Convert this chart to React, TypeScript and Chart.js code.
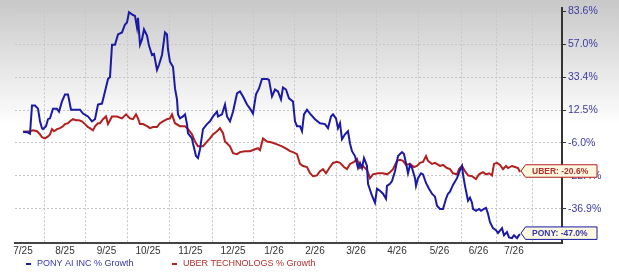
import React, { useEffect, useRef } from 'react';
import { Chart, registerables } from 'chart.js';

Chart.register(...registerables);

// [trading-day index since start, % growth]
const ponyGrowth: [number, number][] = [
  [0, 0], [2, -0.2], [3.5, -1.0], [4.5, 15.2], [6, 15.2], [7.5, 13.3], [8.5, 5.9], [9.5, 2.0], [10, 1.5], [11.5, 3.1],
  [12.5, 7.1], [13.5, 7.6], [15, 13.3], [17, 13.3], [18, 11.5], [19.5, 17.7], [21, 22.1], [22.5, 22.1], [24, 12.7], [26, 12.7],
  [28.5, 12.7], [30, 10.4], [32.5, 8.7], [34.5, 5.9], [36, 7.1], [37.5, 15.8], [39.5, 16.4], [41, 24.0], [42.5, 32.1], [43.5, 33.4],
  [44.5, 56.6], [46, 56.6], [47.5, 64.5], [49.5, 66.1], [51, 72.5], [52, 74.1], [53, 82.8], [55, 80.4], [56, 79.6], [57, 70.1],
  [57.5, 78.0], [58.5, 56.6], [59.5, 60.6], [60.5, 68.5], [62, 63.7], [63, 55.9], [64.5, 48.9], [65.5, 49.6], [67, 38.3], [68, 41.9],
  [69.5, 48.9], [70, 54.5], [71, 66.1], [72, 64.5], [72.5, 53.1], [73.5, 44.0], [75, 40.5], [76, 25.9], [77, 18.9], [77.5, 9.9],
  [78.5, 7.6], [80, 8.7], [81, 9.9], [82, 4.3], [82.5, -0.8], [84.5, -3.6], [85, -6.3], [86.5, -12.8], [87.5, -13.8], [88.5, -9.3],
  [90, 1.5], [92, 4.3], [93.5, 5.9], [95, 8.7], [97, 11.5], [97.5, 8.7], [99.5, 9.9], [101, 15.8], [102, 8.7], [103.5, 5.9],
  [105, 11.5], [107, 22.7], [108.5, 24.0], [110, 20.8], [112, 15.8], [113.5, 13.3], [115, 10.4], [116.5, 22.1], [118, 25.9], [119.5, 32.1],
  [122, 32.1], [123, 31.5], [124.5, 20.8], [126, 25.2], [127.5, 24.0], [129, 18.9], [130, 26.5], [131.5, 25.2], [133, 19.6], [135, 17.7],
  [136, 5.9], [137, 3.1], [138.5, 3.1], [139.5, 0.3], [140.5, 9.9], [142, 12.7], [143.5, 10.4], [146, 7.1], [148.5, 4.8], [151, 4.3],
  [152.5, 2.0], [154, 8.7], [155, 9.9], [156.5, 7.6], [157.5, 2.0], [158.5, 4.8], [159.5, -4.1], [161, -1.4], [162.5, 0.3], [163.5, -6.3],
  [164.5, -10.3], [166, -12.8], [167.5, -18.7], [168.5, -16.2], [169.5, -18.7], [170.5, -13.8], [172, -17.7], [172.5, -26.1], [174.5, -31.4], [176, -34.4],
  [177, -28.3], [178.5, -29.2], [180, -30.5], [181.5, -32.7], [182, -27.0], [183.5, -26.1], [184.5, -24.8], [186, -20.2], [187.5, -12.8], [189.5, -10.8],
  [190.5, -11.8], [192, -18.7], [192.5, -21.2], [193.5, -17.2], [194.5, -18.7], [196, -23.5], [196.5, -27.0], [197.5, -23.5], [199, -21.2], [200, -21.7],
  [201.5, -25.7], [203, -28.3], [204.5, -30.5], [206, -31.8], [207, -35.7], [208.5, -37.0], [210, -37.0], [211.5, -32.7], [212.5, -30.5], [213.5, -29.6],
  [215, -26.6], [217, -23.5], [218.5, -19.7], [219.5, -17.7], [220, -21.7], [221, -27.0], [222, -31.4], [222.5, -33.5], [223.5, -32.2], [224.5, -34.4],
  [225, -37.0], [226.5, -37.8], [228, -37.0], [229, -37.8], [230.5, -37.0], [231.5, -36.6], [232.5, -39.0], [233.5, -42.4], [235, -44.7], [236.5, -45.5],
  [237.5, -46.6], [239.5, -44.7], [240.5, -47.4], [242, -46.2], [243, -48.2], [244.5, -48.5], [245.5, -47.4], [247, -48.5], [248, -47.4], [248.5, -47.0],
];

const uberGrowth: [number, number][] = [
  [0, 0], [2, 0.2], [3.5, 0.3], [5, 0.8], [7, 0.3], [8.5, -1.4], [9.5, -3.0], [11, -3.6], [12.5, -2.5], [13.5, -1.4],
  [14.5, 1.5], [15.5, 0.3], [17, 1.5], [18.5, 2.0], [20, 3.1], [21, 4.3], [22.5, 4.8], [23.5, 5.9], [25, 7.1], [26.5, 6.5],
  [28, 6.5], [29.5, 5.9], [31, 4.3], [32.5, 2.6], [33.5, 2.0], [35, 0.8], [36, 3.1], [37.5, 4.8], [38.5, 4.8], [40, 7.1],
  [41.5, 8.7], [42.5, 4.3], [44.5, 8.7], [47, 8.7], [49.5, 7.6], [51.5, 9.9], [53.5, 7.6], [55, 7.1], [56.5, 9.9], [57.5, 7.6],
  [58.5, 4.3], [60, 4.3], [62, 3.1], [63.5, 2.0], [65, 2.6], [67, 2.6], [68.5, 4.8], [70, 5.9], [72, 7.1], [73.5, 7.6],
  [74.5, 9.9], [76, 4.8], [78.5, 3.1], [81, 3.1], [82.5, 1.5], [84.5, -1.4], [86, -5.3], [87.5, -7.8], [90, -7.8], [92, -5.3],
  [93.5, -3.6], [95, -1.4], [97, 0.3], [98.5, 2.0], [100, -0.8], [101, -5.3], [103.5, -7.8], [105, -11.3], [107, -11.8], [108.5, -10.8],
  [111, -10.3], [113.5, -10.3], [116, -9.3], [117.5, -8.8], [118.5, -9.8], [120, -3.6], [122, -5.3], [124.5, -5.8], [127, -6.8], [129.5, -7.8],
  [132, -9.3], [133.5, -10.3], [135, -10.8], [137, -11.8], [138.5, -16.7], [140, -17.7], [142, -18.2], [143.5, -21.2], [145, -22.6], [147, -22.2],
  [148.5, -20.2], [150, -19.2], [151.5, -21.2], [153.5, -18.2], [155, -16.2], [157, -15.7], [158.5, -16.2], [160.5, -18.2], [162, -19.2], [163.5, -16.7],
  [165.5, -15.7], [167, -14.2], [168.5, -18.7], [170, -17.7], [172, -19.7], [173.5, -23.5], [175, -21.7], [177.5, -21.2], [180, -21.2], [182, -21.7],
  [183.5, -20.7], [185, -19.2], [187, -15.2], [188.5, -14.7], [190, -15.2], [191.5, -17.2], [193.5, -16.7], [195.5, -18.2], [197, -17.7], [198.5, -16.2],
  [200, -15.7], [201.5, -12.8], [202.5, -15.2], [204.5, -16.7], [206, -16.2], [208.5, -17.7], [210, -17.2], [212, -18.7], [213.5, -19.2], [215, -21.2],
  [217, -21.7], [218, -19.2], [219.5, -17.7], [221, -20.2], [222.5, -22.2], [224.5, -22.6], [226.5, -23.9], [228, -21.7], [230, -20.7], [231.5, -21.7],
  [233, -21.2], [234.5, -22.2], [235.5, -16.7], [237, -16.2], [238.5, -17.2], [240, -19.2], [241.5, -17.7], [242.5, -18.7], [244.5, -17.7], [246, -18.2],
  [247.5, -18.7], [248.5, -20.6],
];

const yTickValues = [83.6, 57.0, 33.4, 12.5, -6.0, -22.4, -36.9];
const monthStarts = [10.5, 31.5, 52, 73, 94.5, 115.5, 135.5, 156.5, 176.5, 197.5, 219, 236.5, 254.5];
const monthLabels = ['7/25', '8/25', '9/25', '10/25', '11/25', '12/25', '1/26', '2/26', '3/26', '4/26', '5/26', '6/26', '7/26'];

const seriesTags = ['PONY', 'UBER'];
const seriesNames = ['PONY AI INC % Growth', 'UBER TECHNOLOGS % Growth'];
const lineColors = ['#1a1aa4', '#b21f1f'];
const textColors = ['#3535ac', '#b03030'];

// compressed growth axis used by the source chart
const SHIFT = 149.7;
const REF = 233.3;
const STEP = 0.121;
const toAxis = (v: number) => Math.log((v + SHIFT) / REF) / STEP;

const FONT = '"Liberation Sans", Arial, sans-serif';

type XTick = { value: number; kind: 'grid' | 'label'; text: string };
const xTicks: XTick[] = [
  ...monthStarts.map((v) => ({ value: v, kind: 'grid' as const, text: '' })),
  ...monthLabels.map((lab, i) => {
    const prev = i === 0 ? 2 * monthStarts[0] - monthStarts[1] : monthStarts[i - 1];
    return { value: (prev + monthStarts[i]) / 2, kind: 'label' as const, text: lab };
  }),
].sort((a, b) => a.value - b.value);

const backdrop = {
  id: 'backdrop',
  beforeDraw(chart: any) {
    const { ctx, width, height } = chart;
    const g = ctx.createLinearGradient(0, 0, 0, 125);
    g.addColorStop(0, '#c8c8c8');
    g.addColorStop(1, '#ffffff');
    ctx.save();
    ctx.fillStyle = g;
    ctx.fillRect(0, 0, width, height);
    ctx.restore();
  },
};

const overlay = {
  id: 'overlay',
  afterDraw(chart: any) {
    const { ctx } = chart;
    ctx.save();
    // legend
    const legendX = [26, 172];
    const ly = 264;
    seriesNames.forEach((name, i) => {
      ctx.fillStyle = lineColors[i];
      ctx.fillRect(legendX[i], ly - 1, 5, 2);
      ctx.fillStyle = textColors[i];
      ctx.font = `9px ${FONT}`;
      ctx.textBaseline = 'middle';
      ctx.textAlign = 'left';
      ctx.fillText(name, legendX[i] + 11, ly);
    });
    // end tags
    chart.data.datasets.forEach((ds: any, i: number) => {
      const meta = chart.getDatasetMeta(i);
      const pt = meta.data[meta.data.length - 1];
      const last = ds.rawValues[ds.rawValues.length - 1];
      const x0 = pt.x + 1;
      const yc = pt.y - 1;
      const w = 76;
      const h = 12.5;
      const notch = 4.5;
      ctx.beginPath();
      ctx.moveTo(x0, yc);
      ctx.lineTo(x0 + notch, yc - h / 2);
      ctx.lineTo(x0 + w, yc - h / 2);
      ctx.lineTo(x0 + w, yc + h / 2);
      ctx.lineTo(x0 + notch, yc + h / 2);
      ctx.closePath();
      ctx.fillStyle = '#fcf8df';
      ctx.fill();
      ctx.lineWidth = 1;
      ctx.strokeStyle = lineColors[i];
      ctx.stroke();
      ctx.fillStyle = textColors[i];
      ctx.font = `bold 8.5px ${FONT}`;
      ctx.textBaseline = 'middle';
      ctx.textAlign = 'left';
      ctx.fillText(`${seriesTags[i]}: ${last.toFixed(1)}%`, x0 + 11, yc + 0.5);
    });
    ctx.restore();
  },
};

export default function App() {
  const ref = useRef<HTMLCanvasElement | null>(null);

  useEffect(() => {
    if (!ref.current) return;
    Chart.defaults.font.family = FONT;
    const sets = [ponyGrowth, uberGrowth];
    const chart = new Chart(ref.current, {
      type: 'line',
      data: {
        datasets: sets.map((s, i) => ({
          label: seriesNames[i],
          data: s.map(([d, v]) => ({ x: d, y: toAxis(v) })),
          rawValues: s.map(([, v]) => v),
          borderColor: lineColors[i],
          borderWidth: 2,
          pointRadius: 0,
          tension: 0,
          fill: false,
        })) as any,
      },
      options: {
        animation: false,
        responsive: false,
        maintainAspectRatio: false,
        events: [],
        layout: { autoPadding: false, padding: { left: 15, top: 5, right: 0, bottom: 15 } },
        plugins: { legend: { display: false }, tooltip: { enabled: false } },
        scales: {
          x: {
            type: 'linear',
            min: -4,
            max: 269.5,
            afterBuildTicks: (s: any) => {
              s.ticks = xTicks.map((t) => ({ value: t.value }));
            },
            afterFit: (s: any) => {
              s.height = 16;
            },
            ticks: {
              autoSkip: false,
              maxRotation: 0,
              minRotation: 0,
              padding: 2,
              color: '#333333',
              font: { size: 10 },
              callback: (_v: any, i: number) => (xTicks[i] && xTicks[i].kind === 'label' ? xTicks[i].text : ''),
            },
            grid: {
              color: (c: any) => (xTicks[c.index] && xTicks[c.index].kind === 'grid' ? '#c6c6c6' : 'rgba(0,0,0,0)'),
              drawTicks: false,
              lineWidth: 1,
            },
            border: { color: '#444444', width: 2, dash: [2, 2] },
          },
          y: {
            type: 'linear',
            position: 'right',
            min: -7.05,
            max: 0.09,
            afterBuildTicks: (s: any) => {
              s.ticks = yTickValues.map((v) => ({ value: toAxis(v) }));
            },
            afterFit: (s: any) => {
              s.width = 57;
            },
            ticks: {
              padding: 2,
              color: '#3d3d9e',
              font: { size: 10.5 },
              callback: (_v: any, i: number) => `${yTickValues[i].toFixed(1)}%`,
            },
            grid: {
              color: '#c6c6c6',
              lineWidth: 1,
              drawTicks: true,
              tickLength: 4,
              tickColor: '#333333',
              tickBorderDash: [],
            },
            border: { color: '#333333', width: 2, dash: [2, 2] },
          },
        },
      } as any,
      plugins: [backdrop, overlay],
    });
    return () => chart.destroy();
  }, []);

  return (
    <div style={{ position: 'absolute', left: 0, top: 0, width: 619, height: 274 }}>
      <canvas ref={ref} width={619} height={274} style={{ display: 'block', width: 619, height: 274 }} />
    </div>
  );
}
